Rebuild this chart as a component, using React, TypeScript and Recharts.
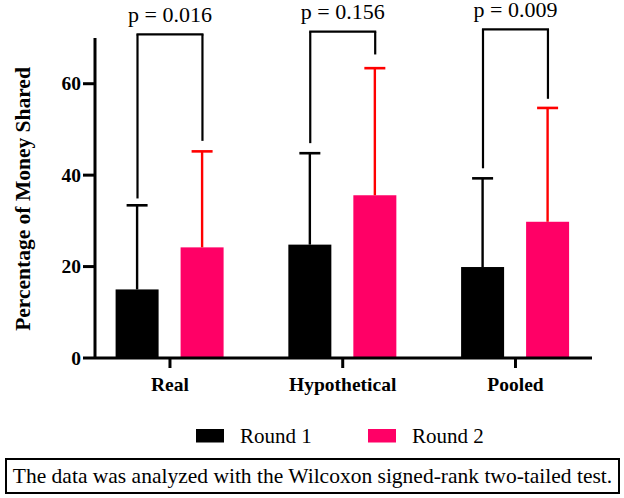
import React from "react";
import {
  BarChart, Bar, XAxis, YAxis, Legend, ReferenceLine,
} from "recharts";

/* 값은 그림에서 읽은 추정치 */
const categories = ["Real", "Hypothetical", "Pooled"];
const round1Mean = [15.0, 24.8, 19.9];
const round1Sd = [18.4, 20.0, 19.4];
const round2Mean = [24.2, 35.6, 29.8];
const round2Sd = [21.0, 27.8, 24.9];
const pLabels = ["p = 0.016", "p = 0.156", "p = 0.009"];
const bracketTop = [70.8, 71.4, 71.9];
const bracketLeftEnd = [34.9, 47.0, 41.5];
const bracketRightEnd = [47.5, 66.4, 56.7];
const yTicks = [0, 20, 40, 60];

const SERIF = "Liberation Serif";
const PINK = "#ff0066";
const RED = "#ff0000";
/* 막대 쌍 중심에서 각 막대 중심까지 (x축 단위) */
const HALF_PAIR = 0.188;

const data = categories.map((name, i) => ({
  x: i,
  name,
  r1: round1Mean[i],
  r1Sd: round1Sd[i],
  r2: round2Mean[i],
  r2Sd: round2Sd[i],
}));

/* 막대 + 위쪽만 있는 SD 막대 */
const barWithSd = (valKey: string, sdKey: string, errColor: string) => (props: any) => {
  const { x, y, width, height, fill, payload } = props;
  const perUnit = height / payload[valKey];
  const top = y - payload[sdKey] * perUnit;
  const cx = x + width / 2;
  return (
    <g>
      <rect x={x} y={y} width={width} height={height} fill={fill} />
      <line x1={cx} y1={y} x2={cx} y2={top} stroke={errColor} strokeWidth={2.4} />
      <line x1={cx - 10.5} y1={top} x2={cx + 10.5} y2={top} stroke={errColor} strokeWidth={2.6} />
    </g>
  );
};

/* 축 눈금 글자: 굵은 세리프 */
const XTick = ({ x, y, payload }: any) => (
  <text x={x} y={y + 13.5} textAnchor="middle" fontFamily={SERIF} fontWeight="bold"
    fontSize={19.5} fill="#000" style={{ fontFamily: SERIF }}>
    {categories[payload.value] ?? ""}
  </text>
);

const YTick = ({ x, y, payload }: any) => (
  <text x={x} y={y + 6.5} textAnchor="end" fontFamily={SERIF} fontWeight="bold"
    fontSize={19.5} fill="#000" style={{ fontFamily: SERIF }}>
    {payload.value}
  </text>
);

function LegendRow({ payload }: any) {
  const items = payload ?? [];
  const xs = [196, 368];
  return (
    <svg width={624} height={30}>
      {items.map((it: any, i: number) => (
        <g key={it.value}>
          <rect x={xs[i]} y={7} width={28} height={13.5} fill={it.color} />
          <text x={xs[i] + 44} y={20.7} fontFamily={SERIF} fontSize={21} fill="#000"
            style={{ fontFamily: SERIF }}>
            {it.value}
          </text>
        </g>
      ))}
    </svg>
  );
}

export default function App() {
  return (
    <div style={{ position: "absolute", left: 0, top: 0, width: 624, height: 498, background: "#fff", fontFamily: SERIF }}>
      <BarChart
        width={624}
        height={498}
        data={data}
        margin={{ top: 38, right: 32, bottom: 70, left: 0 }}
        barGap={22}
        barSize={43}
      >
        <XAxis
          dataKey="x"
          type="number"
          domain={[-0.434, 2.443]}
          ticks={[0, 1, 2]}
          height={40}
          tickSize={10}
          tickMargin={9}
          axisLine={{ stroke: "#000", strokeWidth: 3 }}
          tickLine={{ stroke: "#000", strokeWidth: 3 }}
          tick={<XTick />}
        />
        <YAxis
          domain={[0, 70]}
          ticks={yTicks}
          width={95}
          tickSize={12}
          tickMargin={2}
          axisLine={{ stroke: "#000", strokeWidth: 3 }}
          tickLine={{ stroke: "#000", strokeWidth: 3 }}
          tick={<YTick />}
          label={{
            content: ({ viewBox }: any) => {
              const cy = viewBox ? viewBox.y + viewBox.height / 2 : 198;
              return (
                <text
                  transform={`translate(30, ${cy + 1}) rotate(-90)`}
                  textAnchor="middle"
                  fontFamily={SERIF}
                  fontWeight="bold"
                  fontSize={21.5}
                  fill="#000"
                >
                  Percentage of Money Shared
                </text>
              );
            },
          }}
        />
        <Legend
          verticalAlign="bottom"
          content={(p: any) => <LegendRow payload={p.payload} />}
          wrapperStyle={{ top: 422, left: 0, bottom: "auto", width: 624, height: 30 }}
        />
        <Bar dataKey="r1" name="Round 1" fill="#000" isAnimationActive={false}
          shape={barWithSd("r1", "r1Sd", "#000")} />
        <Bar dataKey="r2" name="Round 2" fill={PINK} isAnimationActive={false}
          shape={barWithSd("r2", "r2Sd", RED)} />

        {/* 유의성 브래킷 */}
        {categories.map((c, i) => (
          <ReferenceLine key={`l${c}`} ifOverflow="visible" stroke="#000" strokeWidth={2.2}
            segment={[{ x: i - HALF_PAIR, y: bracketLeftEnd[i] }, { x: i - HALF_PAIR, y: bracketTop[i] }]} />
        ))}
        {categories.map((c, i) => (
          <ReferenceLine key={`r${c}`} ifOverflow="visible" stroke="#000" strokeWidth={2.2}
            segment={[{ x: i + HALF_PAIR, y: bracketRightEnd[i] }, { x: i + HALF_PAIR, y: bracketTop[i] }]} />
        ))}
        {categories.map((c, i) => (
          <ReferenceLine key={`t${c}`} ifOverflow="visible" stroke="#000" strokeWidth={2.2}
            segment={[{ x: i - HALF_PAIR - 0.006, y: bracketTop[i] }, { x: i + HALF_PAIR + 0.006, y: bracketTop[i] }]}
            label={{ value: pLabels[i], position: "top", offset: 12.5, fill: "#000", fontSize: 22, fontFamily: SERIF }} />
        ))}
      </BarChart>
      <div
        style={{
          position: "absolute", left: 5, top: 458, width: 615, height: 36,
          boxSizing: "border-box", border: "2.5px solid #000",
          display: "flex", alignItems: "center", justifyContent: "center",
          fontFamily: SERIF, fontSize: 21.5, color: "#000", whiteSpace: "nowrap",
        }}
      >
        The data was analyzed with the Wilcoxon signed-rank two-tailed test.
      </div>
    </div>
  );
}
